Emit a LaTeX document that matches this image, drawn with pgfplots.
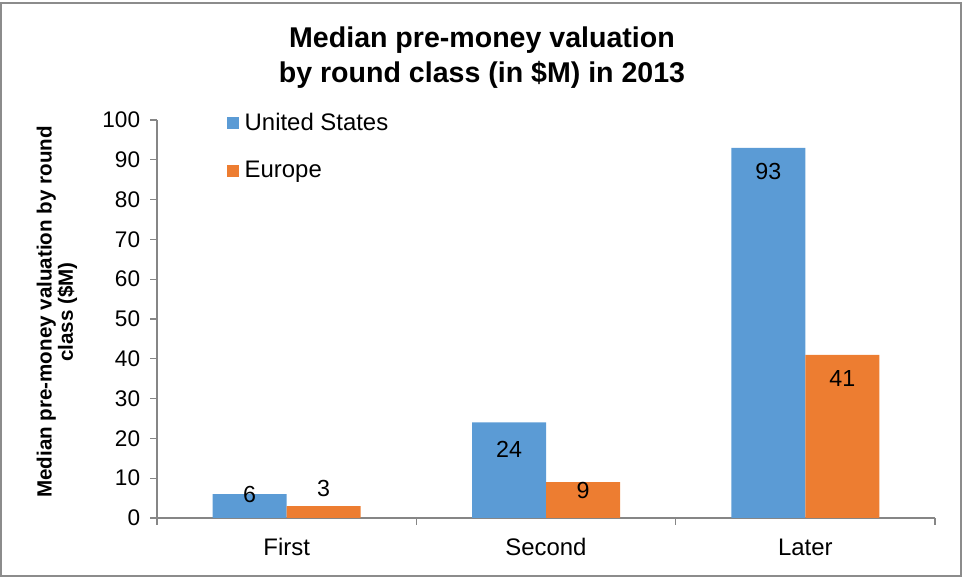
\documentclass[border=0pt]{standalone}
\usepackage{pgfplots}
\usepackage{pgfplotstable}
\usepackage{fontspec}
\setmainfont{Liberation Sans}
\pgfplotsset{compat=1.18}
\definecolor{usblue}{HTML}{5B9BD5}
\definecolor{euorange}{HTML}{ED7D31}
\definecolor{axisgray}{HTML}{868686}
\definecolor{framegray}{HTML}{8C8C8C}

% x: category index, dy: label offset from bar top (bp)
\pgfplotstableread{
x us usdy eu eudy
0 6  0   3  13.5
1 24 -20 9  -6
2 93 -18 41 -18
}\valdata

\begin{document}
\begin{tikzpicture}
\useasboundingbox (0,0) rectangle (723bp,432.75bp);
\draw[framegray, line width=0.9bp] (0.75bp,0.75bp) rectangle (720.75bp,430.5bp);
\node[align=center, font=\fontsize{21.5}{26.5}\selectfont\bfseries] at (361.5bp,389.5bp)
  {Median pre-money valuation\\by round class (in \$M) in 2013};
\begin{axis}[
  at={(117.75bp,44.25bp)}, anchor=south west,
  scale only axis,
  width=583.5bp, height=298.5bp,
  ybar=0pt, bar width=55.5bp,
  xmin=-0.5, xmax=2.5,
  ymin=0, ymax=100,
  xtick={0,1,2},
  xticklabels={First,Second,Later},
  minor xtick={-0.5,0.5,1.5,2.5},
  ytick={0,10,...,100},
  axis x line*=bottom, axis y line*=left,
  axis line style={axisgray, line width=0.9bp, -},
  tick align=outside,
  major tick length=5bp, minor tick length=5bp,
  x tick style={draw=none},
  minor x tick style={draw=axisgray, line width=0.9bp},
  y tick style={axisgray, line width=0.9bp},
  /pgf/number format/assume math mode=true,
  yticklabel style={font=\fontsize{17}{20}\selectfont, anchor=east, inner sep=0pt, xshift=-7.5bp},
  xticklabel style={font=\fontsize{18}{20}\selectfont, anchor=center, yshift=-17bp},
  ylabel={Median pre-money valuation by round\\class (\$M)},
  every axis y label/.style={at={(rel axis cs:0,0.5)}, xshift=-75bp, yshift=5.25bp, rotate=90, anchor=center,
    align=center, font=\fontsize{15.5}{16}\selectfont\bfseries},
  legend style={at={(rel axis cs:0.085,1.027)}, anchor=north west, draw=none, fill=none,
    font=\fontsize{18}{20}\selectfont, row sep=19.5bp,
    nodes={inner sep=1bp}},
  legend cell align=left,
  legend image code/.code={\fill[#1] (0bp,-4.5bp) rectangle (9bp,4.5bp);},
  nodes near coords,
  every node near coord/.append style={font=\fontsize{17.5}{20}\selectfont, anchor=center, text=black, yshift=\labdy},
]
\addplot[fill=usblue, draw=none, visualization depends on={\thisrow{usdy}\as\labdy}] table[x=x, y=us] {\valdata};
\addplot[fill=euorange, draw=none, visualization depends on={\thisrow{eudy}\as\labdy}] table[x=x, y=eu] {\valdata};
\legend{\hspace{3bp}United States, \hspace{3bp}Europe}
\end{axis}
\end{tikzpicture}
\end{document}
